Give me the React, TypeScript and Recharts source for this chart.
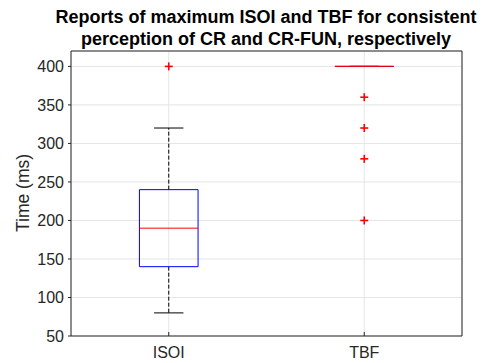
import React from 'react';
import { ComposedChart, XAxis, YAxis, CartesianGrid, Scatter, ReferenceLine } from 'recharts';

// boxplot stats
const categories = ['ISOI', 'TBF'];
const lowerWhisker = [80, 400];
const q1 = [140, 400];
const medians = [190, 400];
const q3 = [240, 400];
const upperWhisker = [320, 400];
const outliers = [[400], [360, 320, 280, 200]];
const yTicks = [50, 100, 150, 200, 250, 300, 350, 400];

const AX = '#262626';
const FONT = '"Liberation Sans", Arial, Helvetica, sans-serif';
const BOX_HALF = 0.15;
const CAP_HALF = 0.075;

const outlierPoints = outliers.flatMap((vals, i) => vals.map((v) => ({ x: i + 1, y: v })));

const Plus = (props: any) => {
  const { cx, cy } = props;
  if (cx == null || cy == null) return null;
  return (
    <g stroke="#ff0000" strokeWidth={1.6}>
      <line x1={cx - 4} x2={cx + 4} y1={cy} y2={cy} />
      <line x1={cx} x2={cx} y1={cy - 4} y2={cy + 4} />
    </g>
  );
};

const seg = (x1: number, y1: number, x2: number, y2: number) => [
  { x: x1, y: y1 },
  { x: x2, y: y2 },
];

const App: React.FC = () => {
  const ids = { xAxisId: 'b', yAxisId: 'l' };
  const lines: React.ReactNode[] = [];
  categories.forEach((_, i) => {
    const p = i + 1;
    // whiskers
    lines.push(<ReferenceLine key={`wu${i}`} {...ids} segment={seg(p, q3[i], p, upperWhisker[i])} stroke="#000" strokeDasharray="4 2" />);
    lines.push(<ReferenceLine key={`wl${i}`} {...ids} segment={seg(p, q1[i], p, lowerWhisker[i])} stroke="#000" strokeDasharray="4 2" />);
    lines.push(<ReferenceLine key={`cu${i}`} {...ids} segment={seg(p - CAP_HALF, upperWhisker[i], p + CAP_HALF, upperWhisker[i])} stroke="#000" />);
    lines.push(<ReferenceLine key={`cl${i}`} {...ids} segment={seg(p - CAP_HALF, lowerWhisker[i], p + CAP_HALF, lowerWhisker[i])} stroke="#000" />);
    // box
    lines.push(<ReferenceLine key={`bt${i}`} {...ids} segment={seg(p - BOX_HALF, q3[i], p + BOX_HALF, q3[i])} stroke="#0000ff" />);
    lines.push(<ReferenceLine key={`bb${i}`} {...ids} segment={seg(p - BOX_HALF, q1[i], p + BOX_HALF, q1[i])} stroke="#0000ff" />);
    lines.push(<ReferenceLine key={`bl${i}`} {...ids} segment={seg(p - BOX_HALF, q1[i], p - BOX_HALF, q3[i])} stroke="#0000ff" />);
    lines.push(<ReferenceLine key={`br${i}`} {...ids} segment={seg(p + BOX_HALF, q1[i], p + BOX_HALF, q3[i])} stroke="#0000ff" />);
    // median
    lines.push(<ReferenceLine key={`md${i}`} {...ids} segment={seg(p - BOX_HALF, medians[i], p + BOX_HALF, medians[i])} stroke="#ff0000" />);
  });

  return (
    <div style={{ position: 'absolute', left: 0, top: 0, width: 488, height: 363, background: '#fff', fontFamily: FONT }}>
      <div
        style={{
          position: 'absolute',
          left: 266 - 244,
          width: 488,
          top: 6,
          textAlign: 'center',
          fontWeight: 'bold',
          fontSize: 18,
          lineHeight: '22px',
          color: '#000',
        }}
      >
        Reports of maximum ISOI and TBF for consistent
        <br />
        perception of CR and CR-FUN, respectively
      </div>
      <div
        style={{
          position: 'absolute',
          left: 23 - 60,
          top: 193 - 11,
          width: 120,
          height: 22,
          lineHeight: '22px',
          textAlign: 'center',
          fontSize: 17.5,
          color: AX,
          transform: 'rotate(-90deg)',
        }}
      >
        Time (ms)
      </div>
      <ComposedChart width={488} height={363} margin={{ top: 50, right: 25, bottom: 0, left: 0 }} style={{ position: 'absolute', left: 0, top: 0 }}>
        <CartesianGrid xAxisId="b" yAxisId="l" stroke="#e5e5e5" />
        <XAxis
          xAxisId="b"
          type="number"
          dataKey="x"
          domain={[0.5, 2.5]}
          ticks={[1, 2]}
          tickFormatter={(v: number) => categories[v - 1] ?? ''}
          height={27}
          tickSize={-4}
          tickMargin={15}
          axisLine={{ stroke: AX }}
          tickLine={{ stroke: AX }}
          tick={{ fill: AX, fontSize: 16, fontFamily: FONT }}
          allowDataOverflow
        />
        <XAxis
          xAxisId="t"
          orientation="top"
          type="number"
          domain={[0.5, 2.5]}
          ticks={[1, 2]}
          tickFormatter={() => ''}
          height={1}
          tickSize={-4}
          tickMargin={0}
          axisLine={{ stroke: AX }}
          tickLine={{ stroke: AX }}
        />
        <YAxis
          yAxisId="l"
          type="number"
          dataKey="y"
          domain={[50, 420]}
          ticks={yTicks}
          width={71}
          tickSize={3}
          tickMargin={4}
          axisLine={{ stroke: AX }}
          tickLine={{ stroke: AX }}
          tick={{ fill: AX, fontSize: 16, fontFamily: FONT }}
          allowDataOverflow
        />
        <YAxis
          yAxisId="r"
          orientation="right"
          type="number"
          domain={[50, 420]}
          ticks={yTicks}
          tickFormatter={() => ''}
          width={1}
          tickSize={-4}
          tickMargin={0}
          axisLine={{ stroke: AX }}
          tickLine={{ stroke: AX }}
        />
        {lines}
        <Scatter xAxisId="b" yAxisId="l" data={outlierPoints} dataKey="y" shape={<Plus />} isAnimationActive={false} />
      </ComposedChart>
    </div>
  );
};

export default App;
